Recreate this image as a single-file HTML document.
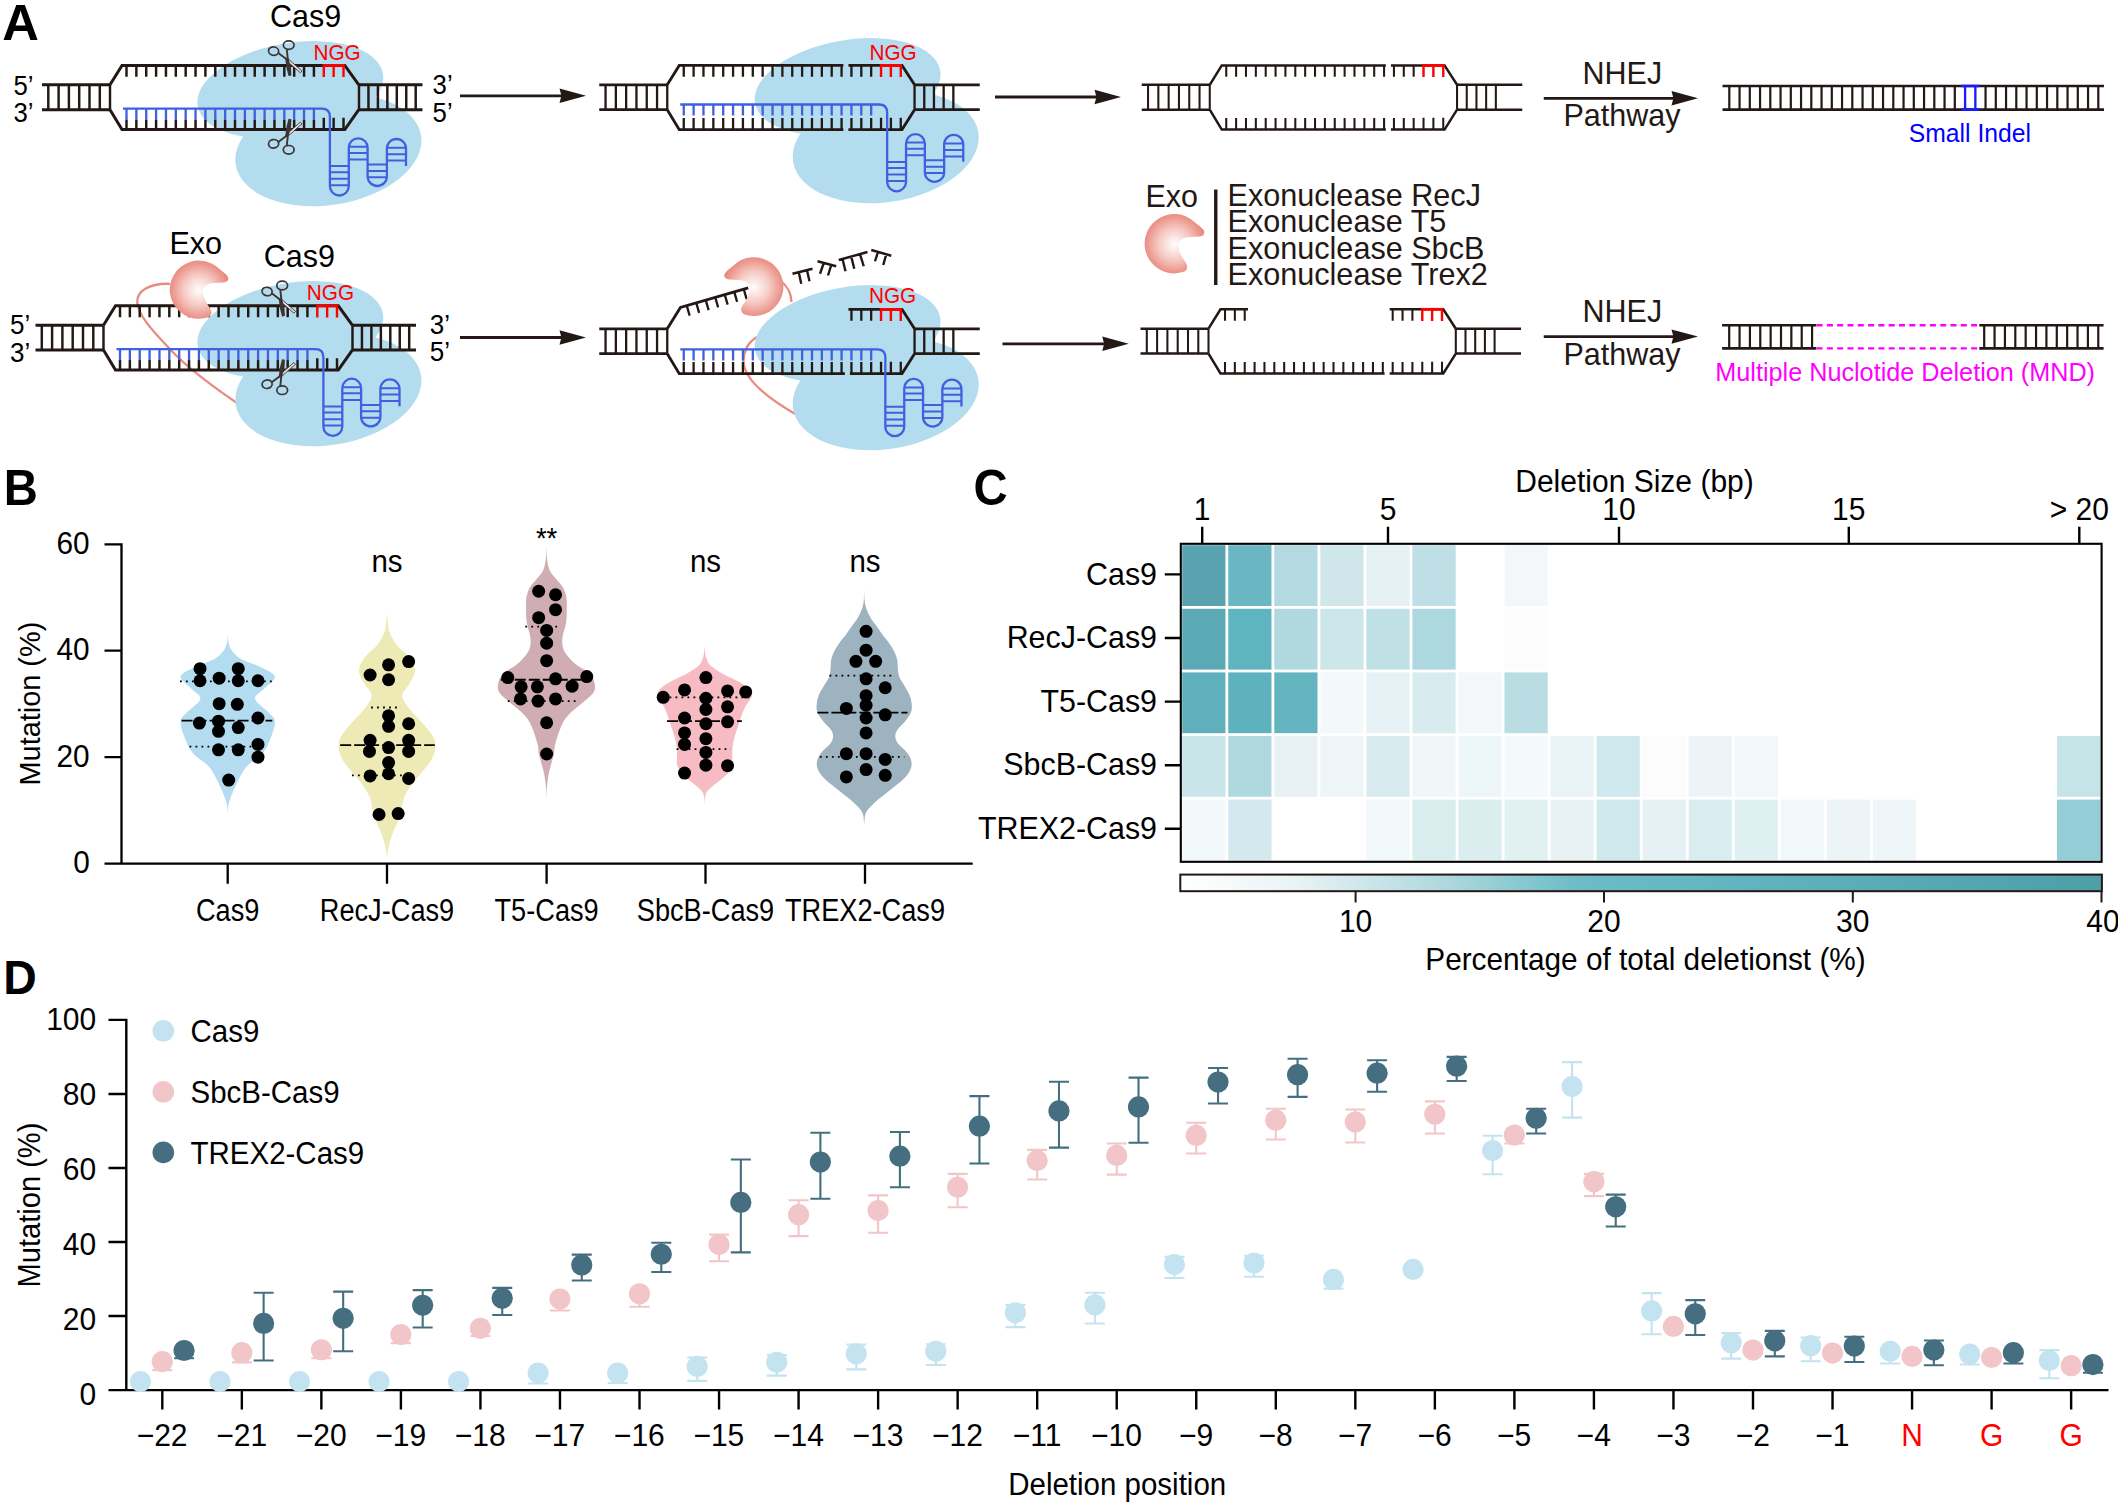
<!DOCTYPE html>
<html><head><meta charset="utf-8"><title>Figure</title>
<style>
html,body{margin:0;padding:0;background:#fff;}
body{width:2118px;height:1507px;overflow:hidden;}
svg{display:block;font-family:"Liberation Sans",sans-serif;}
</style></head><body>
<svg width="2118" height="1507" viewBox="0 0 2118 1507">
<rect width="2118" height="1507" fill="#fff"/>
<g id="panelA">
<defs><radialGradient id="gexo" gradientUnits="userSpaceOnUse" cx="0" cy="0.5" r="31"><stop offset="0" stop-color="#ffffff"/><stop offset="0.12" stop-color="#fdf1ef"/><stop offset="0.5" stop-color="#f6cbc5"/><stop offset="0.85" stop-color="#ec9b91"/><stop offset="1" stop-color="#e98a7f"/></radialGradient></defs>
<text transform="translate(2.2 39.7) scale(1.025 1)" font-size="49.52" fill="#000" text-anchor="start" font-weight="bold" >A</text>
<g fill="#b3dcee" transform="translate(0 0)"><ellipse cx="290.3" cy="89.8" rx="94" ry="46.6" transform="rotate(-10 290.3 89.8)"/><ellipse cx="328.4" cy="150" rx="93.8" ry="55" transform="rotate(-9 328.4 150)"/></g><g transform="translate(0 0)" fill="none" stroke="#231815" stroke-width="3" stroke-linejoin="miter"><path d="M42 84.8H110 M42 109.7H110"/><path d="M48.3 84.8V109.7M58.6 84.8V109.7M68.9 84.8V109.7M79.2 84.8V109.7M89.5 84.8V109.7M99.8 84.8V109.7M110 84.8V109.7" stroke="#231815" stroke-width="2.46" fill="none"/><path d="M358.8 84.8H422.5 M358.8 109.7H422.5"/><path d="M359 84.8V109.7M368.45 84.8V109.7M377.9 84.8V109.7M387.35 84.8V109.7M396.8 84.8V109.7M406.25 84.8V109.7M415.7 84.8V109.7" stroke="#231815" stroke-width="2.46" fill="none"/><path d="M110 84.8L122 65.4H344.8L358.8 84.8"/><path d="M126.5 65.4V76.8M136.36 65.4V76.8M146.23 65.4V76.8M156.09 65.4V76.8M165.96 65.4V76.8M175.82 65.4V76.8M185.68 65.4V76.8M195.55 65.4V76.8M205.41 65.4V76.8M215.28 65.4V76.8M225.14 65.4V76.8M235 65.4V76.8M244.87 65.4V76.8M254.73 65.4V76.8M264.6 65.4V76.8M274.46 65.4V76.8M284.32 65.4V76.8M294.19 65.4V76.8M304.05 65.4V76.8M313.92 65.4V76.8" stroke="#231815" stroke-width="2.46" fill="none"/><path d="M322.58 65.4H344.71" stroke="#ff0000" stroke-width="2.8"/><path d="M323.78 65.4V77M333.64 65.4V77M343.51 65.4V77" stroke="#ff0000" stroke-width="2.4" fill="none"/><path d="M110 109.7L122 129.6H344.8L358.8 109.7"/><path d="M126.5 129.6V119.6M136.36 129.6V119.6M146.23 129.6V119.6M156.09 129.6V119.6M165.96 129.6V119.6M175.82 129.6V119.6M185.68 129.6V119.6M195.55 129.6V119.6M205.41 129.6V119.6M215.28 129.6V119.6M225.14 129.6V119.6M235 129.6V119.6M244.87 129.6V119.6M254.73 129.6V119.6M264.6 129.6V119.6M274.46 129.6V119.6M284.32 129.6V119.6M294.19 129.6V119.6M304.05 129.6V119.6M313.92 129.6V119.6" stroke="#231815" stroke-width="2.46" fill="none"/><path d="M323.78 129.6V117.8M333.64 129.6V117.8M343.51 129.6V117.8" stroke="#231815" stroke-width="2.46" fill="none"/></g><g transform="translate(0 0)" fill="none" stroke="#4060e0" stroke-width="2.3"><path d="M123 108.7H321.8Q329.9 108.7 329.9 117V186.05A9.45 9.45 0 0 0 348.8 186.05V147.7A9.4 9.4 0 0 1 367.6 147.7V176.35A9.65 9.65 0 0 0 386.9 176.35V148.55A9.55 9.55 0 0 1 406 148.55V165.9"/><path d="M329.9 166.1H348.8M329.9 172.2H348.8M329.9 178.8H348.8M329.9 185.2H348.8M348.8 146.8H367.6M348.8 152.9H367.6M348.8 159.5H367.6M367.6 164.5H386.9M367.6 170.9H386.9M367.6 177.3H386.9M386.9 147.8H406M386.9 154.2H406M386.9 160.6H406" stroke-width="2"/><path d="M126.5 108.7V119.8M136.36 108.7V119.8M146.23 108.7V119.8M156.09 108.7V119.8M165.96 108.7V119.8M175.82 108.7V119.8M185.68 108.7V119.8M195.55 108.7V119.8M205.41 108.7V119.8M215.28 108.7V119.8M225.14 108.7V119.8M235 108.7V119.8M244.87 108.7V119.8M254.73 108.7V119.8M264.6 108.7V119.8M274.46 108.7V119.8M284.32 108.7V119.8M294.19 108.7V119.8M304.05 108.7V119.8M313.92 108.7V119.8" stroke="#4060e0" stroke-width="2.3" fill="none"/></g><g transform="translate(0 0)"><path d="M288.7 59.4L302 71L300.4 72.7L287.3 61.5Z" fill="#e8dede" stroke="#3b3431" stroke-width="0.9"/><path d="M285.1 57.8L288.5 58.2L291 68L291.4 75.6L288.5 76.1L286.6 68.5Z" fill="#3b3431"/><g fill="none" stroke="#3b3431" stroke-width="1.7"><ellipse cx="273.6" cy="51.1" rx="5.1" ry="4.2" transform="rotate(12 273.6 51.1)"/><ellipse cx="288.7" cy="45.1" rx="5.4" ry="4.3"/><path d="M278.6 53.2L287.6 60M286.8 49.5L287.8 58.8" stroke-width="1.9"/></g></g><g transform="translate(0 0) translate(0 194.9) scale(1 -1)"><path d="M288.7 59.4L302 71L300.4 72.7L287.3 61.5Z" fill="#e8dede" stroke="#3b3431" stroke-width="0.9"/><path d="M285.1 57.8L288.5 58.2L291 68L291.4 75.6L288.5 76.1L286.6 68.5Z" fill="#3b3431"/><g fill="none" stroke="#3b3431" stroke-width="1.7"><ellipse cx="273.6" cy="51.1" rx="5.1" ry="4.2" transform="rotate(12 273.6 51.1)"/><ellipse cx="288.7" cy="45.1" rx="5.4" ry="4.3"/><path d="M278.6 53.2L287.6 60M286.8 49.5L287.8 58.8" stroke-width="1.9"/></g></g>
<text transform="translate(270 26.5) scale(0.955 1)" font-size="31.95" fill="#000" text-anchor="start" font-weight="normal" >Cas9</text>
<text transform="translate(313.5 60) scale(0.955 1)" font-size="21.73" fill="#ff0000" text-anchor="start" font-weight="normal" >NGG</text>
<text transform="translate(13.5 94.5) scale(0.955 1)" font-size="26.94" fill="#000" text-anchor="start" font-weight="normal" >5’</text>
<text transform="translate(13.5 122.2) scale(0.955 1)" font-size="26.94" fill="#000" text-anchor="start" font-weight="normal" >3’</text>
<text transform="translate(432.6 94.3) scale(0.955 1)" font-size="26.94" fill="#000" text-anchor="start" font-weight="normal" >3’</text>
<text transform="translate(432.6 121.8) scale(0.955 1)" font-size="26.94" fill="#000" text-anchor="start" font-weight="normal" >5’</text>
<line x1="460" y1="95.8" x2="566" y2="95.8" stroke="#231815" stroke-width="2.8" /><path d="M586 95.8L559.5 88.6L561.4 95.8L559.5 103Z" fill="#231815"/>
<g fill="#b3dcee" transform="translate(557.3 -3)"><ellipse cx="290.3" cy="89.8" rx="94" ry="46.6" transform="rotate(-10 290.3 89.8)"/><ellipse cx="328.4" cy="150" rx="93.8" ry="55" transform="rotate(-9 328.4 150)"/></g><g transform="translate(557.25 0)" fill="none" stroke="#231815" stroke-width="2.8" stroke-linejoin="miter"><path d="M42 84.8H110 M42 109.7H110"/><path d="M48.3 84.8V109.7M58.6 84.8V109.7M68.9 84.8V109.7M79.2 84.8V109.7M89.5 84.8V109.7M99.8 84.8V109.7M110 84.8V109.7" stroke="#231815" stroke-width="2.3" fill="none"/><path d="M357.3 84.8H422.5 M357.3 109.7H422.5"/><path d="M357.3 84.8V109.7M367 84.8V109.7M376.7 84.8V109.7M386.4 84.8V109.7M396.1 84.8V109.7" stroke="#231815" stroke-width="2.3" fill="none"/><path d="M110 84.8L122 65.4H286.12 M291.19 65.4H344.8L357.3 84.8"/><path d="M126.5 65.4V76.8M136.36 65.4V76.8M146.23 65.4V76.8M156.09 65.4V76.8M165.96 65.4V76.8M175.82 65.4V76.8M185.68 65.4V76.8M195.55 65.4V76.8M205.41 65.4V76.8M215.28 65.4V76.8M225.14 65.4V76.8M235 65.4V76.8M244.87 65.4V76.8M254.73 65.4V76.8M264.6 65.4V76.8M274.46 65.4V76.8M284.32 65.4V76.8M294.19 65.4V76.8M304.05 65.4V76.8M313.92 65.4V76.8" stroke="#231815" stroke-width="2.3" fill="none"/><path d="M322.58 65.4H344.71" stroke="#ff0000" stroke-width="2.8"/><path d="M323.78 65.4V77M333.64 65.4V77M343.51 65.4V77" stroke="#ff0000" stroke-width="2.4" fill="none"/><path d="M110 109.7L122 129.6H286.12 M291.19 129.6H344.8L357.3 109.7"/><path d="M126.5 129.6V118M136.36 129.6V118M146.23 129.6V118M156.09 129.6V118M165.96 129.6V118M175.82 129.6V118M185.68 129.6V118M195.55 129.6V118M205.41 129.6V118M215.28 129.6V118M225.14 129.6V118M235 129.6V118M244.87 129.6V118M254.73 129.6V118M264.6 129.6V118M274.46 129.6V118M284.32 129.6V118M294.19 129.6V118M304.05 129.6V118M313.92 129.6V118" stroke="#231815" stroke-width="2.3" fill="none"/><path d="M323.78 129.6V117.8M333.64 129.6V117.8M343.51 129.6V117.8" stroke="#231815" stroke-width="2.3" fill="none"/></g><g transform="translate(557.25 -4.2)" fill="none" stroke="#4060e0" stroke-width="2.3"><path d="M123 108.7H321.8Q329.9 108.7 329.9 117V186.05A9.45 9.45 0 0 0 348.8 186.05V147.7A9.4 9.4 0 0 1 367.6 147.7V176.35A9.65 9.65 0 0 0 386.9 176.35V148.55A9.55 9.55 0 0 1 406 148.55V165.9"/><path d="M329.9 166.1H348.8M329.9 172.2H348.8M329.9 178.8H348.8M329.9 185.2H348.8M348.8 146.8H367.6M348.8 152.9H367.6M348.8 159.5H367.6M367.6 164.5H386.9M367.6 170.9H386.9M367.6 177.3H386.9M386.9 147.8H406M386.9 154.2H406M386.9 160.6H406" stroke-width="2"/><path d="M126.5 108.7V119.8M136.36 108.7V119.8M146.23 108.7V119.8M156.09 108.7V119.8M165.96 108.7V119.8M175.82 108.7V119.8M185.68 108.7V119.8M195.55 108.7V119.8M205.41 108.7V119.8M215.28 108.7V119.8M225.14 108.7V119.8M235 108.7V119.8M244.87 108.7V119.8M254.73 108.7V119.8M264.6 108.7V119.8M274.46 108.7V119.8M284.32 108.7V119.8M294.19 108.7V119.8M304.05 108.7V119.8M313.92 108.7V119.8" stroke="#4060e0" stroke-width="2.3" fill="none"/></g>
<text transform="translate(869.5 59.6) scale(0.955 1)" font-size="21.73" fill="#ff0000" text-anchor="start" font-weight="normal" >NGG</text>
<line x1="995" y1="97" x2="1101" y2="97" stroke="#231815" stroke-width="2.8" /><path d="M1121 97L1094.5 89.8L1096.4 97L1094.5 104.2Z" fill="#231815"/>
<g transform="translate(1099.75 0)" fill="none" stroke="#231815" stroke-width="2.5" stroke-linejoin="miter"><path d="M42 84.8H110 M42 109.7H110"/><path d="M48.3 84.8V109.7M58.6 84.8V109.7M68.9 84.8V109.7M79.2 84.8V109.7M89.5 84.8V109.7M99.8 84.8V109.7M110 84.8V109.7" stroke="#231815" stroke-width="2.05" fill="none"/><path d="M357.3 84.8H422.5 M357.3 109.7H422.5"/><path d="M357.3 84.8V109.7M367 84.8V109.7M376.7 84.8V109.7M386.4 84.8V109.7M396.1 84.8V109.7" stroke="#231815" stroke-width="2.05" fill="none"/><path d="M110 84.8L122 65.4H286.12 M291.19 65.4H344.8L357.3 84.8"/><path d="M126.5 65.4V76.8M136.36 65.4V76.8M146.23 65.4V76.8M156.09 65.4V76.8M165.96 65.4V76.8M175.82 65.4V76.8M185.68 65.4V76.8M195.55 65.4V76.8M205.41 65.4V76.8M215.28 65.4V76.8M225.14 65.4V76.8M235 65.4V76.8M244.87 65.4V76.8M254.73 65.4V76.8M264.6 65.4V76.8M274.46 65.4V76.8M284.32 65.4V76.8M294.19 65.4V76.8M304.05 65.4V76.8M313.92 65.4V76.8" stroke="#231815" stroke-width="2.05" fill="none"/><path d="M322.58 65.4H344.71" stroke="#ff0000" stroke-width="2.8"/><path d="M323.78 65.4V77M333.64 65.4V77M343.51 65.4V77" stroke="#ff0000" stroke-width="2.4" fill="none"/><path d="M110 109.7L122 129.6H286.12 M291.19 129.6H344.8L357.3 109.7"/><path d="M126.5 129.6V118M136.36 129.6V118M146.23 129.6V118M156.09 129.6V118M165.96 129.6V118M175.82 129.6V118M185.68 129.6V118M195.55 129.6V118M205.41 129.6V118M215.28 129.6V118M225.14 129.6V118M235 129.6V118M244.87 129.6V118M254.73 129.6V118M264.6 129.6V118M274.46 129.6V118M284.32 129.6V118M294.19 129.6V118M304.05 129.6V118M313.92 129.6V118" stroke="#231815" stroke-width="2.05" fill="none"/><path d="M323.78 129.6V117.8M333.64 129.6V117.8M343.51 129.6V117.8" stroke="#231815" stroke-width="2.05" fill="none"/></g>
<line x1="1543.75" y1="98.3" x2="1678" y2="98.3" stroke="#231815" stroke-width="2.8" /><path d="M1698 98.3L1671.5 91.1L1673.4 98.3L1671.5 105.5Z" fill="#231815"/>
<text transform="translate(1582.5 83.8) scale(0.955 1)" font-size="31.95" fill="#231815" text-anchor="start" font-weight="normal" >NHEJ</text>
<text transform="translate(1563.5 126.4) scale(0.955 1)" font-size="31.95" fill="#231815" text-anchor="start" font-weight="normal" >Pathway</text>
<g stroke="#231815" fill="none"><path d="M1722.5 86H2104 M1722.5 109.6H2104" stroke-width="2.6"/><path d="M1729.3 86V109.6M1739.55 86V109.6M1749.8 86V109.6M1760.05 86V109.6M1770.3 86V109.6M1780.55 86V109.6M1790.8 86V109.6M1801.05 86V109.6M1811.3 86V109.6M1821.55 86V109.6M1831.8 86V109.6M1842.05 86V109.6M1852.3 86V109.6M1862.55 86V109.6M1872.8 86V109.6M1883.05 86V109.6M1893.3 86V109.6M1903.55 86V109.6M1913.8 86V109.6M1924.05 86V109.6M1934.3 86V109.6M1944.55 86V109.6M1954.8 86V109.6M1985.55 86V109.6M1995.8 86V109.6M2006.05 86V109.6M2016.3 86V109.6M2026.55 86V109.6M2036.8 86V109.6M2047.05 86V109.6M2057.3 86V109.6M2067.55 86V109.6M2077.8 86V109.6M2088.05 86V109.6M2098.3 86V109.6" stroke="#231815" stroke-width="2.2" fill="none"/></g>
<path d="M1961.1 86H1979.3M1961.1 109.6H1979.3" stroke="#1a1aff" stroke-width="2.6"/>
<path d="M1965.1 86V109.6M1975.35 86V109.6" stroke="#1a1aff" stroke-width="2.3" fill="none"/>
<text transform="translate(1908.8 142.3) scale(0.955 1)" font-size="25.88" fill="#0000ff" text-anchor="start" font-weight="normal" >Small Indel</text>
<text transform="translate(1145.5 207.3) scale(0.955 1)" font-size="31.95" fill="#231815" text-anchor="start" font-weight="normal" >Exo</text>
<line x1="1215.75" y1="189.5" x2="1215.75" y2="285" stroke="#231815" stroke-width="3.4" />
<text transform="translate(1227.5 206.3) scale(0.955 1)" font-size="32.06" fill="#231815" text-anchor="start" font-weight="normal" >Exonuclease RecJ</text>
<text transform="translate(1227.5 232.45) scale(0.955 1)" font-size="32.06" fill="#231815" text-anchor="start" font-weight="normal" >Exonuclease T5</text>
<text transform="translate(1227.5 258.6) scale(0.955 1)" font-size="32.06" fill="#231815" text-anchor="start" font-weight="normal" >Exonuclease SbcB</text>
<text transform="translate(1227.5 284.75) scale(0.955 1)" font-size="32.06" fill="#231815" text-anchor="start" font-weight="normal" >Exonuclease Trex2</text>
<path d="M10.2 27.9A29.7 29.7 0 1 1 21 -21C23.6 -18.8 27.5 -16.2 29.3 -13.6C30.6 -11.6 30.2 -8.8 27.3 -7.8C22 -6.3 13 -7.5 9.4 -5.5C6 -3.8 3.8 -1.5 4.1 1.7C4.4 5.5 5.5 9 7 11.8C8.5 14.8 10.5 17.5 11.8 19.6C13.5 22.5 13.5 25.5 10.2 27.9Z" transform="translate(1174.3 243.7)" fill="url(#gexo)"/>
<path d="M170 283.8C150 283 136 291 137.3 303C139 318 158 336 171.4 350.7C190 370 212 386 237 403" fill="none" stroke="#e98b7e" stroke-width="2.3"/>
<g fill="#b3dcee" transform="translate(0 240)"><ellipse cx="290.3" cy="89.8" rx="94" ry="46.6" transform="rotate(-10 290.3 89.8)"/><ellipse cx="328.4" cy="150" rx="93.8" ry="55" transform="rotate(-9 328.4 150)"/></g><g transform="translate(-6.5 240.4)" fill="none" stroke="#231815" stroke-width="3" stroke-linejoin="miter"><path d="M42 84.8H110 M42 109.7H110"/><path d="M48.3 84.8V109.7M58.6 84.8V109.7M68.9 84.8V109.7M79.2 84.8V109.7M89.5 84.8V109.7M99.8 84.8V109.7M110 84.8V109.7" stroke="#231815" stroke-width="2.46" fill="none"/><path d="M358.8 84.8H422.5 M358.8 109.7H422.5"/><path d="M359 84.8V109.7M368.45 84.8V109.7M377.9 84.8V109.7M387.35 84.8V109.7M396.8 84.8V109.7M406.25 84.8V109.7M415.7 84.8V109.7" stroke="#231815" stroke-width="2.46" fill="none"/><path d="M110 84.8L122 65.4H344.8L358.8 84.8"/><path d="M126.5 65.4V76.8M136.36 65.4V76.8M146.23 65.4V76.8M156.09 65.4V76.8M165.96 65.4V76.8M175.82 65.4V76.8M185.68 65.4V76.8M195.55 65.4V76.8M205.41 65.4V76.8M215.28 65.4V76.8M225.14 65.4V76.8M235 65.4V76.8M244.87 65.4V76.8M254.73 65.4V76.8M264.6 65.4V76.8M274.46 65.4V76.8M284.32 65.4V76.8M294.19 65.4V76.8M304.05 65.4V76.8M313.92 65.4V76.8" stroke="#231815" stroke-width="2.46" fill="none"/><path d="M322.58 65.4H344.71" stroke="#ff0000" stroke-width="2.8"/><path d="M323.78 65.4V77M333.64 65.4V77M343.51 65.4V77" stroke="#ff0000" stroke-width="2.4" fill="none"/><path d="M110 109.7L122 129.6H344.8L358.8 109.7"/><path d="M126.5 129.6V119.6M136.36 129.6V119.6M146.23 129.6V119.6M156.09 129.6V119.6M165.96 129.6V119.6M175.82 129.6V119.6M185.68 129.6V119.6M195.55 129.6V119.6M205.41 129.6V119.6M215.28 129.6V119.6M225.14 129.6V119.6M235 129.6V119.6M244.87 129.6V119.6M254.73 129.6V119.6M264.6 129.6V119.6M274.46 129.6V119.6M284.32 129.6V119.6M294.19 129.6V119.6M304.05 129.6V119.6M313.92 129.6V119.6" stroke="#231815" stroke-width="2.46" fill="none"/><path d="M323.78 129.6V117.8M333.64 129.6V117.8M343.51 129.6V117.8" stroke="#231815" stroke-width="2.46" fill="none"/></g><g transform="translate(-6.5 240.4)" fill="none" stroke="#4060e0" stroke-width="2.3"><path d="M123 108.7H321.8Q329.9 108.7 329.9 117V186.05A9.45 9.45 0 0 0 348.8 186.05V147.7A9.4 9.4 0 0 1 367.6 147.7V176.35A9.65 9.65 0 0 0 386.9 176.35V148.55A9.55 9.55 0 0 1 406 148.55V165.9"/><path d="M329.9 166.1H348.8M329.9 172.2H348.8M329.9 178.8H348.8M329.9 185.2H348.8M348.8 146.8H367.6M348.8 152.9H367.6M348.8 159.5H367.6M367.6 164.5H386.9M367.6 170.9H386.9M367.6 177.3H386.9M386.9 147.8H406M386.9 154.2H406M386.9 160.6H406" stroke-width="2"/><path d="M126.5 108.7V119.8M136.36 108.7V119.8M146.23 108.7V119.8M156.09 108.7V119.8M165.96 108.7V119.8M175.82 108.7V119.8M185.68 108.7V119.8M195.55 108.7V119.8M205.41 108.7V119.8M215.28 108.7V119.8M225.14 108.7V119.8M235 108.7V119.8M244.87 108.7V119.8M254.73 108.7V119.8M264.6 108.7V119.8M274.46 108.7V119.8M284.32 108.7V119.8M294.19 108.7V119.8M304.05 108.7V119.8M313.92 108.7V119.8" stroke="#4060e0" stroke-width="2.3" fill="none"/></g><g transform="translate(-6.5 240.4)"><path d="M288.7 59.4L302 71L300.4 72.7L287.3 61.5Z" fill="#e8dede" stroke="#3b3431" stroke-width="0.9"/><path d="M285.1 57.8L288.5 58.2L291 68L291.4 75.6L288.5 76.1L286.6 68.5Z" fill="#3b3431"/><g fill="none" stroke="#3b3431" stroke-width="1.7"><ellipse cx="273.6" cy="51.1" rx="5.1" ry="4.2" transform="rotate(12 273.6 51.1)"/><ellipse cx="288.7" cy="45.1" rx="5.4" ry="4.3"/><path d="M278.6 53.2L287.6 60M286.8 49.5L287.8 58.8" stroke-width="1.9"/></g></g><g transform="translate(-6.5 240.4) translate(0 194.9) scale(1 -1)"><path d="M288.7 59.4L302 71L300.4 72.7L287.3 61.5Z" fill="#e8dede" stroke="#3b3431" stroke-width="0.9"/><path d="M285.1 57.8L288.5 58.2L291 68L291.4 75.6L288.5 76.1L286.6 68.5Z" fill="#3b3431"/><g fill="none" stroke="#3b3431" stroke-width="1.7"><ellipse cx="273.6" cy="51.1" rx="5.1" ry="4.2" transform="rotate(12 273.6 51.1)"/><ellipse cx="288.7" cy="45.1" rx="5.4" ry="4.3"/><path d="M278.6 53.2L287.6 60M286.8 49.5L287.8 58.8" stroke-width="1.9"/></g></g>
<path d="M10.2 27.9A29.7 29.7 0 1 1 21 -21C23.6 -18.8 27.5 -16.2 29.3 -13.6C30.6 -11.6 30.2 -8.8 27.3 -7.8C22 -6.3 13 -7.5 9.4 -5.5C6 -3.8 3.8 -1.5 4.1 1.7C4.4 5.5 5.5 9 7 11.8C8.5 14.8 10.5 17.5 11.8 19.6C13.5 22.5 13.5 25.5 10.2 27.9Z" transform="translate(198.9 289.7) scale(0.98)" fill="url(#gexo)"/>
<text transform="translate(169.5 254.4) scale(0.955 1)" font-size="31.95" fill="#000" text-anchor="start" font-weight="normal" >Exo</text>
<text transform="translate(263.8 267) scale(0.955 1)" font-size="31.95" fill="#000" text-anchor="start" font-weight="normal" >Cas9</text>
<text transform="translate(306.8 300.3) scale(0.955 1)" font-size="21.73" fill="#ff0000" text-anchor="start" font-weight="normal" >NGG</text>
<text transform="translate(10 333.9) scale(0.955 1)" font-size="27.26" fill="#000" text-anchor="start" font-weight="normal" >5’</text>
<text transform="translate(10 362) scale(0.955 1)" font-size="27.26" fill="#000" text-anchor="start" font-weight="normal" >3’</text>
<text transform="translate(429.8 333.5) scale(0.955 1)" font-size="27.26" fill="#000" text-anchor="start" font-weight="normal" >3’</text>
<text transform="translate(429.8 360.8) scale(0.955 1)" font-size="27.26" fill="#000" text-anchor="start" font-weight="normal" >5’</text>
<line x1="460" y1="337.5" x2="566" y2="337.5" stroke="#231815" stroke-width="2.8" /><path d="M586 337.5L559.5 330.3L561.4 337.5L559.5 344.7Z" fill="#231815"/>
<path d="M781 281C789 288 791 294 791.5 302" fill="none" stroke="#e98b7e" stroke-width="2.3"/>
<path d="M757 337C748 342 743 352 743.5 362C744.5 378 762 395 796 414.5" fill="none" stroke="#e98b7e" stroke-width="2.3"/>
<g fill="#b3dcee" transform="translate(557.3 244)"><ellipse cx="290.3" cy="89.8" rx="94" ry="46.6" transform="rotate(-10 290.3 89.8)"/><ellipse cx="328.4" cy="150" rx="93.8" ry="55" transform="rotate(-9 328.4 150)"/></g><g transform="translate(557.25 244)" fill="none" stroke="#231815" stroke-width="2.8" stroke-linejoin="miter"><path d="M42 84.8H110 M42 109.7H110"/><path d="M48.3 84.8V109.7M58.6 84.8V109.7M68.9 84.8V109.7M79.2 84.8V109.7M89.5 84.8V109.7M99.8 84.8V109.7M110 84.8V109.7" stroke="#231815" stroke-width="2.3" fill="none"/><path d="M357.3 84.8H422.5 M357.3 109.7H422.5"/><path d="M357.3 84.8V109.7M367 84.8V109.7M376.7 84.8V109.7M386.4 84.8V109.7M396.1 84.8V109.7" stroke="#231815" stroke-width="2.3" fill="none"/><path d="M110 84.8L123.2 63.4L191 43.9"/><path d="M291.19 65.4H344.8L357.3 84.8"/><path d="M294.19 65.4V76.8M304.05 65.4V76.8M313.92 65.4V76.8" stroke="#231815" stroke-width="2.3" fill="none"/><path d="M129.5 61.59l2.9 10M139 58.85l2.9 10M148.5 56.12l2.9 10M158 53.38l2.9 10M167.5 50.65l2.9 10M177 47.92l2.9 10M186.5 45.18l2.9 10" stroke-width="2.3"/><path d="M322.58 65.4H344.71" stroke="#ff0000" stroke-width="2.8"/><path d="M323.78 65.4V77M333.64 65.4V77M343.51 65.4V77" stroke="#ff0000" stroke-width="2.4" fill="none"/><path d="M110 109.7L122 129.6H287.62 M292.69 129.6H344.8L357.3 109.7"/><path d="M126.5 129.6V118M136.36 129.6V118M146.23 129.6V118M156.09 129.6V118M165.96 129.6V118M175.82 129.6V118M185.68 129.6V118M195.55 129.6V118M205.41 129.6V118M215.28 129.6V118M225.14 129.6V118M235 129.6V118M244.87 129.6V118M254.73 129.6V118M264.6 129.6V118M274.46 129.6V118M284.32 129.6V118M294.19 129.6V118M304.05 129.6V118M313.92 129.6V118" stroke="#231815" stroke-width="2.3" fill="none"/><path d="M323.78 129.6V117.8M333.64 129.6V117.8M343.51 129.6V117.8" stroke="#231815" stroke-width="2.3" fill="none"/></g><g transform="translate(557.25 240.6)" fill="none" stroke="#4060e0" stroke-width="2.3"><path d="M123 108.7H320Q328.1 108.7 328.1 117V186.05A9.45 9.45 0 0 0 347 186.05V147.7A9.4 9.4 0 0 1 365.8 147.7V176.35A9.65 9.65 0 0 0 385.1 176.35V148.55A9.55 9.55 0 0 1 404.2 148.55V165.9"/><path d="M328.1 166.1H347M328.1 172.2H347M328.1 178.8H347M328.1 185.2H347M347 146.8H365.8M347 152.9H365.8M347 159.5H365.8M365.8 164.5H385.1M365.8 170.9H385.1M365.8 177.3H385.1M385.1 147.8H404.2M385.1 154.2H404.2M385.1 160.6H404.2" stroke-width="2"/><path d="M126.5 108.7V119.8M136.36 108.7V119.8M146.23 108.7V119.8M156.09 108.7V119.8M165.96 108.7V119.8M175.82 108.7V119.8M185.68 108.7V119.8M195.55 108.7V119.8M205.41 108.7V119.8M215.28 108.7V119.8M225.14 108.7V119.8M235 108.7V119.8M244.87 108.7V119.8M254.73 108.7V119.8M264.6 108.7V119.8M274.46 108.7V119.8M284.32 108.7V119.8M294.19 108.7V119.8M304.05 108.7V119.8M313.92 108.7V119.8" stroke="#4060e0" stroke-width="2.3" fill="none"/></g>
<path d="M10.2 27.9A29.7 29.7 0 1 1 21 -21C23.6 -18.8 27.5 -16.2 29.3 -13.6C30.6 -11.6 30.2 -8.8 27.3 -7.8C22 -6.3 13 -7.5 9.4 -5.5C6 -3.8 3.8 -1.5 4.1 1.7C4.4 5.5 5.5 9 7 11.8C8.5 14.8 10.5 17.5 11.8 19.6C13.5 22.5 13.5 25.5 10.2 27.9Z" transform="translate(754 286.6) scale(-1 1) scale(0.99)" fill="url(#gexo)"/>
<text transform="translate(869 302.8) scale(0.955 1)" font-size="21.73" fill="#ff0000" text-anchor="start" font-weight="normal" >NGG</text>
<path d="M792.5 273.75L812.5 268.75M798.75 272.3L801.25 283.75M807 270.3L809.5 281.25M817.5 261.25L836.25 266.25M823.75 263L820 273.75M831.25 265L828 275.5M838.75 260L867.5 252M842.5 259L845.5 271.25M851.25 256.6L854.25 268.75M860 254.2L863.75 266.25M871.25 250L891.25 255.75M878 252L875 261.25M886.25 254.4L883.25 265" fill="none" stroke="#231815" stroke-width="2.4"/>
<line x1="1002.5" y1="343.8" x2="1108.75" y2="343.8" stroke="#231815" stroke-width="2.8" /><path d="M1128.75 343.8L1102.25 336.6L1104.15 343.8L1102.25 351Z" fill="#231815"/>
<g transform="translate(1098.5 243.9)" fill="none" stroke="#231815" stroke-width="2.5" stroke-linejoin="miter"><path d="M42 84.8H110 M42 109.7H110"/><path d="M48.3 84.8V109.7M58.6 84.8V109.7M68.9 84.8V109.7M79.2 84.8V109.7M89.5 84.8V109.7M99.8 84.8V109.7M110 84.8V109.7" stroke="#231815" stroke-width="2.05" fill="none"/><path d="M357.3 84.8H422.5 M357.3 109.7H422.5"/><path d="M357.3 84.8V109.7M367 84.8V109.7M376.7 84.8V109.7M386.4 84.8V109.7M396.1 84.8V109.7" stroke="#231815" stroke-width="2.05" fill="none"/><path d="M110 84.8L122 65.4H149.5"/><path d="M126.5 65.4V76.8M136.36 65.4V76.8M146.23 65.4V76.8" stroke="#231815" stroke-width="2.05" fill="none"/><path d="M291.19 65.4H344.8L357.3 84.8"/><path d="M294.19 65.4V76.8M304.05 65.4V76.8M313.92 65.4V76.8" stroke="#231815" stroke-width="2.05" fill="none"/><path d="M322.58 65.4H344.71" stroke="#ff0000" stroke-width="2.8"/><path d="M323.78 65.4V77M333.64 65.4V77M343.51 65.4V77" stroke="#ff0000" stroke-width="2.4" fill="none"/><path d="M110 109.7L122 129.6H286.12 M291.19 129.6H344.8L357.3 109.7"/><path d="M126.5 129.6V118M136.36 129.6V118M146.23 129.6V118M156.09 129.6V118M165.96 129.6V118M175.82 129.6V118M185.68 129.6V118M195.55 129.6V118M205.41 129.6V118M215.28 129.6V118M225.14 129.6V118M235 129.6V118M244.87 129.6V118M254.73 129.6V118M264.6 129.6V118M274.46 129.6V118M284.32 129.6V118M294.19 129.6V118M304.05 129.6V118M313.92 129.6V118" stroke="#231815" stroke-width="2.05" fill="none"/><path d="M323.78 129.6V117.8M333.64 129.6V117.8M343.51 129.6V117.8" stroke="#231815" stroke-width="2.05" fill="none"/></g>
<line x1="1543.75" y1="336.6" x2="1678" y2="336.6" stroke="#231815" stroke-width="2.8" /><path d="M1698 336.6L1671.5 329.4L1673.4 336.6L1671.5 343.8Z" fill="#231815"/>
<text transform="translate(1582.5 321.6) scale(0.955 1)" font-size="31.95" fill="#231815" text-anchor="start" font-weight="normal" >NHEJ</text>
<text transform="translate(1563.5 364.6) scale(0.955 1)" font-size="31.95" fill="#231815" text-anchor="start" font-weight="normal" >Pathway</text>
<g stroke="#231815" fill="none"><path d="M1722.1 325.3H1816.4 M1722.1 348.4H1816.4" stroke-width="2.6"/><path d="M1729.2 325.3V348.4M1739.56 325.3V348.4M1749.92 325.3V348.4M1760.28 325.3V348.4M1770.64 325.3V348.4M1781 325.3V348.4M1791.36 325.3V348.4M1801.72 325.3V348.4M1812.08 325.3V348.4" stroke="#231815" stroke-width="2.2" fill="none"/></g>
<g stroke="#231815" fill="none"><path d="M1979.3 325.3H2103.6 M1979.3 348.4H2103.6" stroke-width="2.6"/><path d="M1984.2 325.3V348.4M1994.57 325.3V348.4M2004.94 325.3V348.4M2015.31 325.3V348.4M2025.68 325.3V348.4M2036.05 325.3V348.4M2046.42 325.3V348.4M2056.79 325.3V348.4M2067.16 325.3V348.4M2077.53 325.3V348.4M2087.9 325.3V348.4M2098.27 325.3V348.4" stroke="#231815" stroke-width="2.2" fill="none"/></g>
<path d="M1816.6 325.3H1979M1816.6 348.4H1979" stroke="#ff00ff" stroke-width="2.4" stroke-dasharray="6 4.3" fill="none"/>
<text transform="translate(1715.3 380.7) scale(0.955 1)" font-size="26.41" fill="#ff00ff" text-anchor="start" font-weight="normal" >Multiple Nuclotide Deletion (MND)</text>
</g>
<g id="panelB">
<text transform="translate(3.8 505.2) scale(0.955 1)" font-size="49.52" fill="#000" text-anchor="start" font-weight="bold" >B</text>
<path d="M227.74 634.54C227.9 635.98 227.95 640.38 228.69 643.14C229.43 645.9 230.12 648.45 232.2 651.11C234.27 653.76 236.44 656.42 241.11 659.07C245.79 661.72 254.6 664.11 260.22 667.03C265.85 669.95 274.34 672.87 274.88 676.59C275.41 680.3 266.7 685.61 263.41 689.33C260.12 693.04 254.44 695.17 255.13 698.88C255.82 702.6 264.26 707.91 267.55 711.62C270.84 715.34 274.29 716.93 274.88 721.18C275.46 725.43 273.07 731.8 271.05 737.11C269.04 742.41 266.7 748.25 262.77 753.03C258.84 757.81 251.41 761.52 247.48 765.77C243.56 770.02 241.8 773.73 239.2 778.51C236.6 783.29 233.63 790.19 231.88 794.44C230.12 798.68 229.38 800.81 228.69 803.99C228 807.18 227.9 811.96 227.74 813.55C227.58 811.96 227.47 807.18 226.78 803.99C226.09 800.81 225.35 798.68 223.6 794.44C221.84 790.19 218.87 783.29 216.27 778.51C213.67 773.73 211.92 770.02 207.99 765.77C204.06 761.52 196.63 757.81 192.7 753.03C188.77 748.25 186.44 742.41 184.42 737.11C182.4 731.8 180.01 725.43 180.6 721.18C181.18 716.93 184.63 715.34 187.92 711.62C191.21 707.91 199.65 702.6 200.34 698.88C201.03 695.17 195.35 693.04 192.06 689.33C188.77 685.61 180.07 680.3 180.6 676.59C181.13 672.87 189.62 669.95 195.25 667.03C200.87 664.11 209.69 661.72 214.36 659.07C219.03 656.42 221.21 653.76 223.28 651.11C225.35 648.45 226.04 645.9 226.78 643.14C227.52 640.38 227.58 635.98 227.74 634.54Z" fill="#b4dcf0"/>
<line x1="181.55" y1="720.54" x2="272.33" y2="720.54" stroke="#000" stroke-width="1.8" stroke-dasharray="11 3"/>
<line x1="179.96" y1="681.37" x2="273.92" y2="681.37" stroke="#000" stroke-width="1.8" stroke-dasharray="1.8 4.2"/>
<line x1="189.51" y1="746.66" x2="264.36" y2="746.66" stroke="#000" stroke-width="1.8" stroke-dasharray="1.8 4.2"/>
<g fill="#000"><circle cx="200.03" cy="668.63" r="6.5"/><circle cx="238.25" cy="668.63" r="6.5"/><circle cx="200.03" cy="680.73" r="6.5"/><circle cx="219.14" cy="678.18" r="6.5"/><circle cx="238.25" cy="680.73" r="6.5"/><circle cx="257.99" cy="680.73" r="6.5"/><circle cx="219.14" cy="703.66" r="6.5"/><circle cx="237.29" cy="704.3" r="6.5"/><circle cx="199.39" cy="723.09" r="6.5"/><circle cx="218.5" cy="721.18" r="6.5"/><circle cx="257.99" cy="717.99" r="6.5"/><circle cx="218.5" cy="731.37" r="6.5"/><circle cx="238.25" cy="727.55" r="6.5"/><circle cx="257.99" cy="744.43" r="6.5"/><circle cx="218.5" cy="749.85" r="6.5"/><circle cx="238.25" cy="749.85" r="6.5"/><circle cx="257.99" cy="757.17" r="6.5"/><circle cx="228.69" cy="780.1" r="6.5"/></g>
<path d="M386.99 612.25C387.15 613.95 387.52 619.15 387.95 622.44C388.37 625.73 388.11 628.28 389.54 632C390.97 635.71 393.26 640.49 396.55 644.74C399.84 648.98 406.21 653.23 409.29 657.48C412.37 661.72 414.91 665.97 415.02 670.22C415.13 674.46 412.05 678.71 409.92 682.96C407.8 687.21 402.39 691.45 402.28 695.7C402.17 699.95 405.73 703.66 409.29 708.44C412.84 713.22 419.64 719.59 423.62 724.36C427.6 729.14 431.21 733.39 433.18 737.11C435.14 740.82 435.67 742.94 435.41 746.66C435.14 750.38 433.81 755.15 431.58 759.4C429.35 763.65 425.43 767.89 422.03 772.14C418.63 776.39 414.17 780.64 411.2 784.88C408.23 789.13 405.84 793.38 404.19 797.62C402.55 801.87 402.49 806.12 401.33 810.36C400.16 814.61 398.78 818.86 397.18 823.1C395.59 827.35 393.26 831.6 391.77 835.84C390.28 840.09 389.06 844.6 388.27 848.58C387.47 852.57 387.2 857.87 386.99 859.73C386.78 857.87 386.51 852.57 385.72 848.58C384.92 844.6 383.7 840.09 382.21 835.84C380.73 831.6 378.39 827.35 376.8 823.1C375.21 818.86 373.83 814.61 372.66 810.36C371.49 806.12 371.44 801.87 369.79 797.62C368.15 793.38 365.76 789.13 362.79 784.88C359.81 780.64 355.35 776.39 351.96 772.14C348.56 767.89 344.63 763.65 342.4 759.4C340.17 755.15 338.84 750.38 338.58 746.66C338.31 742.94 338.84 740.82 340.81 737.11C342.77 733.39 346.38 729.14 350.36 724.36C354.34 719.59 361.14 713.22 364.7 708.44C368.25 703.66 371.81 699.95 371.7 695.7C371.6 691.45 366.18 687.21 364.06 682.96C361.94 678.71 358.86 674.46 358.96 670.22C359.07 665.97 361.62 661.72 364.7 657.48C367.78 653.23 374.15 648.98 377.44 644.74C380.73 640.49 383.01 635.71 384.44 632C385.88 628.28 385.61 625.73 386.04 622.44C386.46 619.15 386.83 613.95 386.99 612.25Z" fill="#eeeab6"/>
<line x1="340.17" y1="745.07" x2="434.77" y2="745.07" stroke="#000" stroke-width="1.8" stroke-dasharray="11 3"/>
<line x1="371.07" y1="707.48" x2="399.73" y2="707.48" stroke="#000" stroke-width="1.8" stroke-dasharray="1.8 4.2"/>
<line x1="351.96" y1="775.33" x2="417.25" y2="775.33" stroke="#000" stroke-width="1.8" stroke-dasharray="1.8 4.2"/>
<g fill="#000"><circle cx="388.58" cy="664.8" r="6.5"/><circle cx="408.65" cy="661.62" r="6.5"/><circle cx="370.11" cy="675" r="6.5"/><circle cx="388.58" cy="679.77" r="6.5"/><circle cx="388.58" cy="715.77" r="6.5"/><circle cx="388.58" cy="726.28" r="6.5"/><circle cx="408.65" cy="723.73" r="6.5"/><circle cx="370.11" cy="740.29" r="6.5"/><circle cx="408.65" cy="740.29" r="6.5"/><circle cx="369.47" cy="751.44" r="6.5"/><circle cx="388.58" cy="747.62" r="6.5"/><circle cx="408.65" cy="751.44" r="6.5"/><circle cx="388.58" cy="762.59" r="6.5"/><circle cx="388.58" cy="773.73" r="6.5"/><circle cx="370.11" cy="775.96" r="6.5"/><circle cx="408.65" cy="778.51" r="6.5"/><circle cx="379.03" cy="814.5" r="6.5"/><circle cx="398.14" cy="813.55" r="6.5"/></g>
<path d="M546.41 546C546.52 548.12 546.52 554.7 547.05 558.74C547.58 562.77 548.11 566.86 549.6 570.21C551.08 573.55 553.74 575.94 555.97 578.8C558.2 581.67 561.28 584.49 562.97 587.4C564.67 590.32 565.52 593.4 566.16 596.32C566.8 599.24 566.8 600.62 566.8 604.92C566.8 609.22 566.9 616.55 566.16 622.12C565.42 627.7 562.66 633.54 562.34 638.37C562.02 643.2 562.13 646.86 564.25 651.11C566.37 655.35 570.88 660.13 575.08 663.85C579.27 667.56 586.17 670.22 589.41 673.4C592.65 676.59 593.82 679.77 594.51 682.96C595.2 686.14 595.41 689.33 593.55 692.51C591.69 695.7 587.5 698.35 583.36 702.07C579.22 705.79 572.37 710.83 568.71 714.81C565.05 718.79 563.64 721.02 561.38 725.96C559.13 730.89 556.39 739.81 555.17 744.43C553.95 749.05 554.67 750.59 554.06 753.67C553.45 756.75 552.41 759.51 551.51 762.9C550.61 766.3 549.41 770.02 548.64 774.05C547.87 778.09 547.26 782.76 546.89 787.11C546.52 791.46 546.49 797.99 546.41 800.17C546.33 797.99 546.31 791.46 545.93 787.11C545.56 782.76 544.95 778.09 544.18 774.05C543.41 770.02 542.22 766.3 541.32 762.9C540.41 759.51 539.38 756.75 538.77 753.67C538.16 750.59 538.87 749.05 537.65 744.43C536.43 739.81 533.7 730.89 531.44 725.96C529.19 721.02 527.78 718.79 524.12 714.81C520.45 710.83 513.61 705.79 509.46 702.07C505.32 698.35 501.13 695.7 499.27 692.51C497.41 689.33 497.63 686.14 498.32 682.96C499.01 679.77 500.17 676.59 503.41 673.4C506.65 670.22 513.55 667.56 517.75 663.85C521.94 660.13 526.45 655.35 528.58 651.11C530.7 646.86 530.81 643.2 530.49 638.37C530.17 633.54 527.41 627.7 526.66 622.12C525.92 616.55 526.03 609.22 526.03 604.92C526.03 600.62 526.03 599.24 526.66 596.32C527.3 593.4 528.15 590.32 529.85 587.4C531.55 584.49 534.63 581.67 536.86 578.8C539.09 575.94 541.74 573.55 543.23 570.21C544.71 566.86 545.24 562.77 545.78 558.74C546.31 554.7 546.31 548.12 546.41 546Z" fill="#cfadb2"/>
<line x1="500.77" y1="679.77" x2="590.59" y2="679.77" stroke="#000" stroke-width="1.8" stroke-dasharray="11 3"/>
<line x1="525.29" y1="626.58" x2="560.33" y2="626.58" stroke="#000" stroke-width="1.8" stroke-dasharray="1.8 4.2"/>
<line x1="507.78" y1="701.11" x2="579.44" y2="701.11" stroke="#000" stroke-width="1.8" stroke-dasharray="1.8 4.2"/>
<g fill="#000"><circle cx="538.67" cy="591.23" r="6.5"/><circle cx="555.55" cy="594.73" r="6.5"/><circle cx="555.55" cy="609.7" r="6.5"/><circle cx="538.67" cy="617.66" r="6.5"/><circle cx="546.64" cy="630.4" r="6.5"/><circle cx="546.64" cy="643.14" r="6.5"/><circle cx="546.64" cy="660.66" r="6.5"/><circle cx="507.78" cy="677.54" r="6.5"/><circle cx="555.55" cy="678.82" r="6.5"/><circle cx="586.77" cy="676.59" r="6.5"/><circle cx="521.15" cy="686.78" r="6.5"/><circle cx="537.4" cy="686.78" r="6.5"/><circle cx="572.12" cy="686.14" r="6.5"/><circle cx="520.52" cy="698.88" r="6.5"/><circle cx="538.04" cy="701.11" r="6.5"/><circle cx="555.55" cy="698.88" r="6.5"/><circle cx="546.64" cy="722.77" r="6.5"/><circle cx="546.64" cy="753.99" r="6.5"/></g>
<path d="M704.62 644.74C704.67 645.64 704.71 648.13 704.94 650.15C705.16 652.17 705.32 654.56 705.99 656.84C706.65 659.12 707.42 661.83 708.92 663.85C710.41 665.86 712.52 667.22 714.97 668.94C717.42 670.66 720.44 672.44 723.6 674.17C726.76 675.9 730.61 677.6 733.92 679.33C737.23 681.06 740.82 682.83 743.48 684.55C746.13 686.27 748.41 687.93 749.85 689.65C751.28 691.37 752.08 693.14 752.08 694.87C752.08 696.6 751 698.02 749.85 700.03C748.69 702.04 746.44 704.64 745.16 706.94C743.89 709.25 743.07 711.56 742.2 713.85C741.34 716.15 740.83 718.15 739.97 720.73C739.11 723.32 737.99 726.49 737.04 729.37C736.1 732.24 735.05 735.11 734.3 738C733.55 740.88 732.9 743.78 732.55 746.66C732.21 749.54 732.29 752.39 732.23 755.26C732.18 758.13 732.81 760.99 732.23 763.86C731.65 766.73 730.63 769.87 728.76 772.46C726.89 775.05 723.75 777.1 721.02 779.4C718.29 781.71 714.69 784.27 712.39 786.28C710.08 788.3 708.4 789.74 707.2 791.48C706 793.21 705.62 794.26 705.19 796.67C704.76 799.07 704.71 804.36 704.62 805.9C704.52 804.36 704.47 799.07 704.04 796.67C703.61 794.26 703.24 793.21 702.04 791.48C700.84 789.74 699.15 788.3 696.85 786.28C694.54 784.27 690.94 781.71 688.21 779.4C685.49 777.1 682.34 775.05 680.47 772.46C678.61 769.87 677.58 766.73 677 763.86C676.42 760.99 677.06 758.13 677 755.26C676.95 752.39 677.03 749.54 676.68 746.66C676.34 743.78 675.68 740.88 674.93 738C674.18 735.11 673.14 732.24 672.19 729.37C671.25 726.49 670.12 723.32 669.26 720.73C668.4 718.15 667.9 716.15 667.03 713.85C666.17 711.56 665.34 709.25 664.07 706.94C662.8 704.64 660.54 702.04 659.39 700.03C658.24 698.02 657.16 696.6 657.16 694.87C657.16 693.14 657.96 691.37 659.39 689.65C660.82 687.93 663.1 686.27 665.76 684.55C668.41 682.83 672 681.06 675.31 679.33C678.63 677.6 682.48 675.9 685.63 674.17C688.79 672.44 691.82 670.66 694.27 668.94C696.71 667.22 698.82 665.86 700.32 663.85C701.81 661.83 702.58 659.12 703.25 656.84C703.91 654.56 704.07 652.17 704.3 650.15C704.53 648.13 704.56 645.64 704.62 644.74Z" fill="#f6bbc3"/>
<line x1="667.03" y1="721.18" x2="741.88" y2="721.18" stroke="#000" stroke-width="1.8" stroke-dasharray="11 3"/>
<line x1="657.48" y1="697.29" x2="751.44" y2="697.29" stroke="#000" stroke-width="1.8" stroke-dasharray="1.8 4.2"/>
<line x1="676.59" y1="749.21" x2="730.74" y2="749.21" stroke="#000" stroke-width="1.8" stroke-dasharray="1.8 4.2"/>
<g fill="#000"><circle cx="705.89" cy="677.54" r="6.5"/><circle cx="684.55" cy="689.97" r="6.5"/><circle cx="727.55" cy="690.92" r="6.5"/><circle cx="745.71" cy="691.88" r="6.5"/><circle cx="663.21" cy="697.29" r="6.5"/><circle cx="705.89" cy="698.25" r="6.5"/><circle cx="727.55" cy="706.85" r="6.5"/><circle cx="705.89" cy="709.39" r="6.5"/><circle cx="684.55" cy="717.99" r="6.5"/><circle cx="727.55" cy="721.82" r="6.5"/><circle cx="705.89" cy="723.73" r="6.5"/><circle cx="684.55" cy="732.96" r="6.5"/><circle cx="705.89" cy="738.7" r="6.5"/><circle cx="684.55" cy="744.43" r="6.5"/><circle cx="705.89" cy="752.39" r="6.5"/><circle cx="705.89" cy="765.13" r="6.5"/><circle cx="727.55" cy="765.77" r="6.5"/><circle cx="684.55" cy="773.1" r="6.5"/></g>
<path d="M864.19 589C864.26 590.83 864.23 596.72 864.57 599.99C864.92 603.26 865.32 605.74 866.26 608.62C867.21 611.49 868.57 614.38 870.24 617.25C871.92 620.12 874.28 622.98 876.3 625.85C878.31 628.72 880.2 631.6 882.35 634.48C884.5 637.36 887.19 640.27 889.19 643.14C891.2 646.02 893.03 648.88 894.39 651.74C895.74 654.61 896.74 657.48 897.32 660.34C897.89 663.21 897.45 666.08 897.83 668.94C898.2 671.81 898.39 674.68 899.55 677.54C900.7 680.41 903.09 683.26 904.74 686.14C906.38 689.03 908.27 691.98 909.42 694.87C910.57 697.76 911.37 700.63 911.65 703.5C911.93 706.37 912.12 709.23 911.11 712.1C910.1 714.97 907.81 717.86 905.6 720.73C903.38 723.61 899.55 726.77 897.83 729.37C896.1 731.96 895.25 733.98 895.25 736.28C895.25 738.58 896.24 740.86 897.83 743.16C899.41 745.46 902.73 747.76 904.74 750.07C906.75 752.37 908.75 754.68 909.9 756.98C911.05 759.28 911.65 761.56 911.65 763.86C911.65 766.16 911.05 768.47 909.9 770.77C908.75 773.08 906.89 775.39 904.74 777.68C902.59 779.98 899.73 782.27 897 784.56C894.26 786.86 891.22 789.18 888.33 791.48C885.45 793.77 882.43 796.06 879.7 798.36C876.97 800.65 874.03 803.25 871.96 805.27C869.89 807.28 868.43 808.73 867.28 810.46C866.13 812.18 865.57 813.19 865.05 815.62C864.54 818.04 864.33 823.45 864.19 825.01C864.05 823.45 863.85 818.04 863.33 815.62C862.82 813.19 862.25 812.18 861.1 810.46C859.95 808.73 858.49 807.28 856.42 805.27C854.35 803.25 851.41 800.65 848.68 798.36C845.95 796.06 842.93 793.77 840.05 791.48C837.17 789.18 834.12 786.86 831.38 784.56C828.65 782.27 825.8 779.98 823.65 777.68C821.5 775.39 819.64 773.08 818.49 770.77C817.33 768.47 816.73 766.16 816.73 763.86C816.73 761.56 817.33 759.28 818.49 756.98C819.64 754.68 821.63 752.37 823.65 750.07C825.66 747.76 828.97 745.46 830.56 743.16C832.14 740.86 833.14 738.58 833.14 736.28C833.14 733.98 832.28 731.96 830.56 729.37C828.83 726.77 825 723.61 822.79 720.73C820.57 717.86 818.28 714.97 817.27 712.1C816.27 709.23 816.45 706.37 816.73 703.5C817.01 700.63 817.81 697.76 818.96 694.87C820.11 691.98 822 689.03 823.65 686.14C825.29 683.26 827.68 680.41 828.84 677.54C829.99 674.68 830.19 671.81 830.56 668.94C830.93 666.08 830.49 663.21 831.07 660.34C831.64 657.48 832.64 654.61 834 651.74C835.35 648.88 837.18 646.02 839.19 643.14C841.2 640.27 843.89 637.36 846.04 634.48C848.19 631.6 850.07 628.72 852.09 625.85C854.11 622.98 856.47 620.12 858.14 617.25C859.81 614.38 861.18 611.49 862.12 608.62C863.07 605.74 863.46 603.26 863.81 599.99C864.15 596.72 864.13 590.83 864.19 589Z" fill="#9db3bf"/>
<line x1="817.37" y1="712.58" x2="907.51" y2="712.58" stroke="#000" stroke-width="1.8" stroke-dasharray="11 3"/>
<line x1="829.47" y1="675.63" x2="894.77" y2="675.63" stroke="#000" stroke-width="1.8" stroke-dasharray="1.8 4.2"/>
<line x1="819.92" y1="756.85" x2="904.32" y2="756.85" stroke="#000" stroke-width="1.8" stroke-dasharray="1.8 4.2"/>
<g fill="#000"><circle cx="866.1" cy="631.36" r="6.5"/><circle cx="866.1" cy="650.15" r="6.5"/><circle cx="855.91" cy="661.3" r="6.5"/><circle cx="875.66" cy="661.3" r="6.5"/><circle cx="866.1" cy="678.82" r="6.5"/><circle cx="885.21" cy="687.74" r="6.5"/><circle cx="866.1" cy="695.7" r="6.5"/><circle cx="866.1" cy="705.25" r="6.5"/><circle cx="846.35" cy="708.44" r="6.5"/><circle cx="885.21" cy="714.81" r="6.5"/><circle cx="866.1" cy="717.99" r="6.5"/><circle cx="866.1" cy="732.96" r="6.5"/><circle cx="846.35" cy="753.67" r="6.5"/><circle cx="866.1" cy="753.67" r="6.5"/><circle cx="885.21" cy="759.4" r="6.5"/><circle cx="866.1" cy="769.59" r="6.5"/><circle cx="846.35" cy="776.92" r="6.5"/><circle cx="885.21" cy="775.33" r="6.5"/></g>
<path d="M104.5 544.3H121.5V863.6 M104.5 863.6H972.7M104.5 757.16H121.5M104.5 650.72H121.5M227.7 863.6V883.8M387 863.6V883.8M546.6 863.6V883.8M705.5 863.6V883.8M865 863.6V883.8" fill="none" stroke="#000" stroke-width="2.3"/>
<text transform="translate(89.7 873.2) scale(0.955 1)" font-size="31.2" fill="#000" text-anchor="end" font-weight="normal" >0</text>
<text transform="translate(89.7 766.76) scale(0.955 1)" font-size="31.2" fill="#000" text-anchor="end" font-weight="normal" >20</text>
<text transform="translate(89.7 660.32) scale(0.955 1)" font-size="31.2" fill="#000" text-anchor="end" font-weight="normal" >40</text>
<text transform="translate(89.7 553.88) scale(0.955 1)" font-size="31.2" fill="#000" text-anchor="end" font-weight="normal" >60</text>
<text transform="translate(39.6 703.6) rotate(-90) scale(0.955 1)" font-size="30.25" fill="#000" text-anchor="middle" font-weight="normal" >Mutation (%)</text>
<text transform="translate(227.7 921.3) scale(0.852 1)" font-size="31.9" fill="#000" text-anchor="middle" font-weight="normal" >Cas9</text>
<text transform="translate(387 921.3) scale(0.852 1)" font-size="31.9" fill="#000" text-anchor="middle" font-weight="normal" >RecJ-Cas9</text>
<text transform="translate(546.6 921.3) scale(0.852 1)" font-size="31.9" fill="#000" text-anchor="middle" font-weight="normal" >T5-Cas9</text>
<text transform="translate(705.5 921.3) scale(0.852 1)" font-size="31.9" fill="#000" text-anchor="middle" font-weight="normal" >SbcB-Cas9</text>
<text transform="translate(865 921.3) scale(0.852 1)" font-size="31.9" fill="#000" text-anchor="middle" font-weight="normal" >TREX2-Cas9</text>
<text transform="translate(387 572.3) scale(0.955 1)" font-size="30.88" fill="#000" text-anchor="middle" font-weight="normal" >ns</text>
<text transform="translate(705.5 572.3) scale(0.955 1)" font-size="30.88" fill="#000" text-anchor="middle" font-weight="normal" >ns</text>
<text transform="translate(865 572.3) scale(0.955 1)" font-size="30.88" fill="#000" text-anchor="middle" font-weight="normal" >ns</text>
<text transform="translate(546.6 548) scale(0.955 1)" font-size="28.75" fill="#000" text-anchor="middle" font-weight="normal" >**</text>
</g>
<g id="panelC">
<text transform="translate(973.5 505.3) scale(0.955 1)" font-size="49.52" fill="#000" text-anchor="start" font-weight="bold" >C</text>
<rect x="1182.2" y="545.2" width="43.24" height="60.8" fill="#58a3af"/>
<rect x="1228.24" y="545.2" width="43.24" height="60.8" fill="#6ab7c3"/>
<rect x="1274.28" y="545.2" width="43.24" height="60.8" fill="#b3dae0"/>
<rect x="1320.32" y="545.2" width="43.24" height="60.8" fill="#cfe7eb"/>
<rect x="1366.36" y="545.2" width="43.24" height="60.8" fill="#e5f1f5"/>
<rect x="1412.4" y="545.2" width="43.24" height="60.8" fill="#bddfe5"/>
<rect x="1504.48" y="545.2" width="43.24" height="60.8" fill="#f4f7fa"/>
<rect x="1182.2" y="608.8" width="43.24" height="60.8" fill="#5ba9b5"/>
<rect x="1228.24" y="608.8" width="43.24" height="60.8" fill="#5fb5bf"/>
<rect x="1274.28" y="608.8" width="43.24" height="60.8" fill="#b0d9df"/>
<rect x="1320.32" y="608.8" width="43.24" height="60.8" fill="#cde6ea"/>
<rect x="1366.36" y="608.8" width="43.24" height="60.8" fill="#bfe0e5"/>
<rect x="1412.4" y="608.8" width="43.24" height="60.8" fill="#aed8e0"/>
<rect x="1504.48" y="608.8" width="43.24" height="60.8" fill="#fcfcfd"/>
<rect x="1182.2" y="672.4" width="43.24" height="60.8" fill="#5fb0bc"/>
<rect x="1228.24" y="672.4" width="43.24" height="60.8" fill="#5db2bd"/>
<rect x="1274.28" y="672.4" width="43.24" height="60.8" fill="#65b5c1"/>
<rect x="1320.32" y="672.4" width="43.24" height="60.8" fill="#f3f9fa"/>
<rect x="1366.36" y="672.4" width="43.24" height="60.8" fill="#e6f2f5"/>
<rect x="1412.4" y="672.4" width="43.24" height="60.8" fill="#d8ecef"/>
<rect x="1458.44" y="672.4" width="43.24" height="60.8" fill="#f4f7fa"/>
<rect x="1504.48" y="672.4" width="43.24" height="60.8" fill="#b9dde2"/>
<rect x="1182.2" y="736" width="43.24" height="60.8" fill="#c9e5ea"/>
<rect x="1228.24" y="736" width="43.24" height="60.8" fill="#b0d9df"/>
<rect x="1274.28" y="736" width="43.24" height="60.8" fill="#e8f2f5"/>
<rect x="1320.32" y="736" width="43.24" height="60.8" fill="#eef5f8"/>
<rect x="1366.36" y="736" width="43.24" height="60.8" fill="#d8ecef"/>
<rect x="1412.4" y="736" width="43.24" height="60.8" fill="#f0f7f9"/>
<rect x="1458.44" y="736" width="43.24" height="60.8" fill="#edf6f8"/>
<rect x="1504.48" y="736" width="43.24" height="60.8" fill="#f4f9fa"/>
<rect x="1550.52" y="736" width="43.24" height="60.8" fill="#e9f2f5"/>
<rect x="1596.56" y="736" width="43.24" height="60.8" fill="#cfe8ed"/>
<rect x="1642.6" y="736" width="43.24" height="60.8" fill="#fcfcfd"/>
<rect x="1688.64" y="736" width="43.24" height="60.8" fill="#ecf4f8"/>
<rect x="1734.68" y="736" width="43.24" height="60.8" fill="#f1f8f9"/>
<rect x="2056.96" y="736" width="43.24" height="60.8" fill="#c5e4e7"/>
<rect x="1182.2" y="799.6" width="43.24" height="60.8" fill="#f2f9fa"/>
<rect x="1228.24" y="799.6" width="43.24" height="60.8" fill="#d3e9ed"/>
<rect x="1366.36" y="799.6" width="43.24" height="60.8" fill="#f0f8f9"/>
<rect x="1412.4" y="799.6" width="43.24" height="60.8" fill="#d9edef"/>
<rect x="1458.44" y="799.6" width="43.24" height="60.8" fill="#dcedf0"/>
<rect x="1504.48" y="799.6" width="43.24" height="60.8" fill="#e1f1f2"/>
<rect x="1550.52" y="799.6" width="43.24" height="60.8" fill="#e8f2f5"/>
<rect x="1596.56" y="799.6" width="43.24" height="60.8" fill="#cfe8ec"/>
<rect x="1642.6" y="799.6" width="43.24" height="60.8" fill="#e6f1f5"/>
<rect x="1688.64" y="799.6" width="43.24" height="60.8" fill="#d9edf0"/>
<rect x="1734.68" y="799.6" width="43.24" height="60.8" fill="#dff0f2"/>
<rect x="1780.72" y="799.6" width="43.24" height="60.8" fill="#f0f8f9"/>
<rect x="1826.76" y="799.6" width="43.24" height="60.8" fill="#edf4f8"/>
<rect x="1872.8" y="799.6" width="43.24" height="60.8" fill="#eff6fa"/>
<rect x="2056.96" y="799.6" width="43.24" height="60.8" fill="#94cdd6"/>
<rect x="1180.8" y="543.8" width="920.8" height="318" fill="none" stroke="#000" stroke-width="2.1"/>
<text transform="translate(1202.2 520.3) scale(0.955 1)" font-size="31.42" fill="#000" text-anchor="middle" font-weight="normal" >1</text>
<text transform="translate(1388 520.3) scale(0.955 1)" font-size="31.42" fill="#000" text-anchor="middle" font-weight="normal" >5</text>
<text transform="translate(1619 520.3) scale(0.955 1)" font-size="31.42" fill="#000" text-anchor="middle" font-weight="normal" >10</text>
<text transform="translate(1848.8 520.3) scale(0.955 1)" font-size="31.42" fill="#000" text-anchor="middle" font-weight="normal" >15</text>
<text transform="translate(2079.3 520.3) scale(0.955 1)" font-size="31.42" fill="#000" text-anchor="middle" font-weight="normal" >&gt; 20</text>
<text transform="translate(1157 584.6) scale(0.955 1)" font-size="31.84" fill="#000" text-anchor="end" font-weight="normal" >Cas9</text>
<text transform="translate(1157 648.2) scale(0.955 1)" font-size="31.84" fill="#000" text-anchor="end" font-weight="normal" >RecJ-Cas9</text>
<text transform="translate(1157 711.8) scale(0.955 1)" font-size="31.84" fill="#000" text-anchor="end" font-weight="normal" >T5-Cas9</text>
<text transform="translate(1157 775.4) scale(0.955 1)" font-size="31.84" fill="#000" text-anchor="end" font-weight="normal" >SbcB-Cas9</text>
<text transform="translate(1157 839) scale(0.955 1)" font-size="31.84" fill="#000" text-anchor="end" font-weight="normal" >TREX2-Cas9</text>
<path d="M1202.2 543.8V526.8M1388 543.8V526.8M1619 543.8V526.8M1848.8 543.8V526.8M2079.3 543.8V526.8M1180.8 574.4H1164.8M1180.8 638H1164.8M1180.8 701.6H1164.8M1180.8 765.2H1164.8M1180.8 828.8H1164.8" fill="none" stroke="#000" stroke-width="2.4"/>
<text transform="translate(1634.5 491.5) scale(0.955 1)" font-size="31.42" fill="#000" text-anchor="middle" font-weight="normal" >Deletion Size (bp)</text>
<defs><linearGradient id="cbar" x1="0" x2="1" y1="0" y2="0"><stop offset="0" stop-color="#ffffff"/><stop offset="0.12" stop-color="#eaf4f6"/><stop offset="0.3" stop-color="#a9d6dc"/><stop offset="0.43" stop-color="#6dbcc7"/><stop offset="0.6" stop-color="#62b5c0"/><stop offset="0.8" stop-color="#58a9b4"/><stop offset="1" stop-color="#4e9ea8"/></linearGradient></defs>
<rect x="1180.3" y="874.6" width="921.6" height="16.6" fill="url(#cbar)" stroke="#231815" stroke-width="2"/>
<text transform="translate(1355.6 931.8) scale(0.955 1)" font-size="31.42" fill="#000" text-anchor="middle" font-weight="normal" >10</text>
<text transform="translate(1604 931.8) scale(0.955 1)" font-size="31.42" fill="#000" text-anchor="middle" font-weight="normal" >20</text>
<text transform="translate(1852.8 931.8) scale(0.955 1)" font-size="31.42" fill="#000" text-anchor="middle" font-weight="normal" >30</text>
<text transform="translate(2103 931.8) scale(0.955 1)" font-size="31.42" fill="#000" text-anchor="middle" font-weight="normal" >40</text>
<path d="M1355.6 891V902.5M1604 891V902.5M1852.8 891V902.5M2101.5 891V902.5" fill="none" stroke="#231815" stroke-width="2"/>
<text transform="translate(1645.5 969.8) scale(0.955 1)" font-size="31.2" fill="#000" text-anchor="middle" font-weight="normal" >Percentage of total deletionst (%)</text>
</g>
<g id="panelD">
<text transform="translate(3.3 993.8) scale(0.955 1)" font-size="48.56" fill="#000" text-anchor="start" font-weight="bold" >D</text>
<path d="M108.5 1019.9H126.3V1390.1 M108.5 1390.1H2108.5M108.5 1316.06H126.3M108.5 1242.02H126.3M108.5 1167.98H126.3M108.5 1093.94H126.3M162.3 1390.1V1409.6M241.84 1390.1V1409.6M321.37 1390.1V1409.6M400.9 1390.1V1409.6M480.44 1390.1V1409.6M559.97 1390.1V1409.6M639.51 1390.1V1409.6M719.05 1390.1V1409.6M798.58 1390.1V1409.6M878.12 1390.1V1409.6M957.65 1390.1V1409.6M1037.18 1390.1V1409.6M1116.72 1390.1V1409.6M1196.25 1390.1V1409.6M1275.79 1390.1V1409.6M1355.32 1390.1V1409.6M1434.86 1390.1V1409.6M1514.39 1390.1V1409.6M1593.93 1390.1V1409.6M1673.46 1390.1V1409.6M1753 1390.1V1409.6M1832.53 1390.1V1409.6M1912.07 1390.1V1409.6M1991.6 1390.1V1409.6M2071.14 1390.1V1409.6" fill="none" stroke="#000" stroke-width="2.4"/>
<path d="M538.17 1373.07V1383.44M528.17 1383.44H548.17M617.71 1373.07V1383.07M607.71 1383.07H627.71M697.25 1357.52V1380.84M687.25 1357.52H707.25M687.25 1380.84H707.25M776.78 1354.93V1375.66M766.78 1354.93H786.78M766.78 1375.66H786.78M856.32 1344.57V1369.37M846.32 1344.57H866.32M846.32 1369.37H866.32M935.85 1344.2V1364.93M925.85 1344.2H945.85M925.85 1364.93H945.85M1015.38 1304.95V1327.17M1005.38 1304.95H1025.38M1005.38 1327.17H1025.38M1094.92 1292.74V1323.46M1084.92 1292.74H1104.92M1084.92 1323.46H1104.92M1174.45 1256.83V1277.93M1164.45 1256.83H1184.45M1164.45 1277.93H1184.45M1253.99 1255.72V1276.82M1243.99 1255.72H1263.99M1243.99 1276.82H1263.99M1333.52 1279.41V1288.67M1323.52 1288.67H1343.52M1492.6 1135.77V1174.27M1482.6 1135.77H1502.6M1482.6 1174.27H1502.6M1572.13 1062.1V1117.63M1562.13 1062.1H1582.13M1562.13 1117.63H1582.13M1651.66 1293.11V1334.2M1641.66 1293.11H1661.66M1641.66 1334.2H1661.66M1731.2 1333.09V1358.63M1721.2 1333.09H1741.2M1721.2 1358.63H1741.2M1810.73 1337.53V1361.22M1800.73 1337.53H1820.73M1800.73 1361.22H1820.73M1890.27 1351.23V1363.45M1880.27 1363.45H1900.27M1969.8 1354.19V1364.56M1959.8 1364.56H1979.8M2049.34 1350.12V1378.25M2039.34 1350.12H2059.34M2039.34 1378.25H2059.34" fill="none" stroke="#c4e3f1" stroke-width="2.1"/><g fill="#c4e3f1"><circle cx="140.5" cy="1381.59" r="10.6"/><circle cx="220.03" cy="1381.59" r="10.6"/><circle cx="299.57" cy="1381.59" r="10.6"/><circle cx="379.1" cy="1381.59" r="10.6"/><circle cx="458.64" cy="1381.59" r="10.6"/><circle cx="538.17" cy="1373.07" r="10.6"/><circle cx="617.71" cy="1373.07" r="10.6"/><circle cx="697.25" cy="1366.41" r="10.6"/><circle cx="776.78" cy="1362.33" r="10.6"/><circle cx="856.32" cy="1353.82" r="10.6"/><circle cx="935.85" cy="1351.23" r="10.6"/><circle cx="1015.38" cy="1312.73" r="10.6"/><circle cx="1094.92" cy="1304.95" r="10.6"/><circle cx="1174.45" cy="1264.6" r="10.6"/><circle cx="1253.99" cy="1263.12" r="10.6"/><circle cx="1333.52" cy="1279.41" r="10.6"/><circle cx="1413.06" cy="1269.41" r="10.6"/><circle cx="1492.6" cy="1150.58" r="10.6"/><circle cx="1572.13" cy="1086.54" r="10.6"/><circle cx="1651.66" cy="1310.88" r="10.6"/><circle cx="1731.2" cy="1342.71" r="10.6"/><circle cx="1810.73" cy="1345.68" r="10.6"/><circle cx="1890.27" cy="1351.23" r="10.6"/><circle cx="1969.8" cy="1354.19" r="10.6"/><circle cx="2049.34" cy="1360.48" r="10.6"/></g>
<path d="M162.3 1361.59V1370.11M152.3 1370.11H172.3M241.84 1352.71V1362.33M231.84 1362.33H251.84M321.37 1349.75V1358.26M311.37 1358.26H331.37M400.9 1334.57V1343.08M390.9 1343.08H410.9M480.44 1328.28V1336.05M470.44 1336.05H490.44M559.97 1299.03V1310.51M549.97 1310.51H569.97M639.51 1293.85V1306.8M629.51 1306.8H649.51M719.05 1234.62V1261.27M709.05 1234.62H729.05M709.05 1261.27H729.05M798.58 1200.19V1236.1M788.58 1200.19H808.58M788.58 1236.1H808.58M878.12 1195.37V1232.76M868.12 1195.37H888.12M868.12 1232.76H888.12M957.65 1173.9V1207.22M947.65 1173.9H967.65M947.65 1207.22H967.65M1037.18 1149.84V1179.46M1027.18 1149.84H1047.18M1027.18 1179.46H1047.18M1116.72 1143.55V1174.64M1106.72 1143.55H1126.72M1106.72 1174.64H1126.72M1196.25 1122.82V1153.54M1186.25 1122.82H1206.25M1186.25 1153.54H1206.25M1275.79 1108.75V1139.47M1265.79 1108.75H1285.79M1265.79 1139.47H1285.79M1355.32 1109.49V1142.44M1345.32 1109.49H1365.32M1345.32 1142.44H1365.32M1434.86 1101.34V1133.55M1424.86 1101.34H1444.86M1424.86 1133.55H1444.86M1514.39 1135.03V1143.55M1504.39 1143.55H1524.39M1593.93 1173.9V1196.12M1583.93 1173.9H1603.93M1583.93 1196.12H1603.93" fill="none" stroke="#f2c5c9" stroke-width="2.1"/><g fill="#f2c5c9"><circle cx="162.3" cy="1361.59" r="10.6"/><circle cx="241.84" cy="1352.71" r="10.6"/><circle cx="321.37" cy="1349.75" r="10.6"/><circle cx="400.9" cy="1334.57" r="10.6"/><circle cx="480.44" cy="1328.28" r="10.6"/><circle cx="559.97" cy="1299.03" r="10.6"/><circle cx="639.51" cy="1293.85" r="10.6"/><circle cx="719.05" cy="1244.61" r="10.6"/><circle cx="798.58" cy="1214.63" r="10.6"/><circle cx="878.12" cy="1210.55" r="10.6"/><circle cx="957.65" cy="1187.23" r="10.6"/><circle cx="1037.18" cy="1160.58" r="10.6"/><circle cx="1116.72" cy="1155.39" r="10.6"/><circle cx="1196.25" cy="1135.4" r="10.6"/><circle cx="1275.79" cy="1120.22" r="10.6"/><circle cx="1355.32" cy="1122.08" r="10.6"/><circle cx="1434.86" cy="1114.3" r="10.6"/><circle cx="1514.39" cy="1135.03" r="10.6"/><circle cx="1593.93" cy="1181.68" r="10.6"/><circle cx="1673.46" cy="1326.43" r="10.6"/><circle cx="1753" cy="1350.12" r="10.6"/><circle cx="1832.53" cy="1353.08" r="10.6"/><circle cx="1912.07" cy="1356.41" r="10.6"/><circle cx="1991.6" cy="1357.52" r="10.6"/><circle cx="2071.14" cy="1365.67" r="10.6"/></g>
<path d="M184.1 1350.49V1358.26M174.1 1358.26H194.1M263.63 1292.74V1360.48M253.63 1292.74H273.63M253.63 1360.48H273.63M343.17 1291.63V1351.23M333.17 1291.63H353.17M333.17 1351.23H353.17M422.7 1290.15V1327.54M412.7 1290.15H432.7M412.7 1327.54H432.7M502.24 1287.92V1314.95M492.24 1287.92H512.24M492.24 1314.95H512.24M581.77 1254.61V1280.52M571.77 1254.61H591.77M571.77 1280.52H591.77M661.31 1242.76V1272.01M651.31 1242.76H671.31M651.31 1272.01H671.31M740.85 1159.47V1252.39M730.85 1159.47H750.85M730.85 1252.39H750.85M820.38 1132.81V1198.71M810.38 1132.81H830.38M810.38 1198.71H830.38M899.91 1132.07V1187.23M889.91 1132.07H909.91M889.91 1187.23H909.91M979.45 1096.16V1163.54M969.45 1096.16H989.45M969.45 1163.54H989.45M1058.98 1081.72V1147.62M1048.98 1081.72H1068.98M1048.98 1147.62H1068.98M1138.52 1077.65V1142.81M1128.52 1077.65H1148.52M1128.52 1142.81H1148.52M1218.05 1068.03V1103.57M1208.05 1068.03H1228.05M1208.05 1103.57H1228.05M1297.59 1058.77V1096.9M1287.59 1058.77H1307.59M1287.59 1096.9H1307.59M1377.12 1060.25V1091.72M1367.12 1060.25H1387.12M1367.12 1091.72H1387.12M1456.66 1056.92V1080.98M1446.66 1056.92H1466.66M1446.66 1080.98H1466.66M1536.19 1108.75V1133.55M1526.19 1108.75H1546.19M1526.19 1133.55H1546.19M1615.73 1194.63V1226.47M1605.73 1194.63H1625.73M1605.73 1226.47H1625.73M1695.26 1300.14V1334.94M1685.26 1300.14H1705.26M1685.26 1334.94H1705.26M1774.8 1330.87V1356.41M1764.8 1330.87H1784.8M1764.8 1356.41H1784.8M1854.33 1336.79V1361.96M1844.33 1336.79H1864.33M1844.33 1361.96H1864.33M1933.87 1340.49V1365.3M1923.87 1340.49H1943.87M1923.87 1365.3H1943.87M2013.4 1352.71V1363.45M2003.4 1363.45H2023.4M2092.94 1364.56V1372.7M2082.94 1372.7H2102.94" fill="none" stroke="#456f80" stroke-width="2.1"/><g fill="#456f80"><circle cx="184.1" cy="1350.49" r="10.6"/><circle cx="263.63" cy="1323.46" r="10.6"/><circle cx="343.17" cy="1318.28" r="10.6"/><circle cx="422.7" cy="1305.32" r="10.6"/><circle cx="502.24" cy="1298.29" r="10.6"/><circle cx="581.77" cy="1264.97" r="10.6"/><circle cx="661.31" cy="1254.24" r="10.6"/><circle cx="740.85" cy="1202.41" r="10.6"/><circle cx="820.38" cy="1162.06" r="10.6"/><circle cx="899.91" cy="1156.13" r="10.6"/><circle cx="979.45" cy="1126.15" r="10.6"/><circle cx="1058.98" cy="1110.97" r="10.6"/><circle cx="1138.52" cy="1106.9" r="10.6"/><circle cx="1218.05" cy="1082.09" r="10.6"/><circle cx="1297.59" cy="1074.69" r="10.6"/><circle cx="1377.12" cy="1073.21" r="10.6"/><circle cx="1456.66" cy="1066.17" r="10.6"/><circle cx="1536.19" cy="1118.37" r="10.6"/><circle cx="1615.73" cy="1206.85" r="10.6"/><circle cx="1695.26" cy="1313.84" r="10.6"/><circle cx="1774.8" cy="1340.86" r="10.6"/><circle cx="1854.33" cy="1346.05" r="10.6"/><circle cx="1933.87" cy="1350.12" r="10.6"/><circle cx="2013.4" cy="1352.71" r="10.6"/><circle cx="2092.94" cy="1364.56" r="10.6"/></g>
<text transform="translate(96.2 1404.5) scale(0.955 1)" font-size="31.42" fill="#000" text-anchor="end" font-weight="normal" >0</text>
<text transform="translate(96.2 1329.56) scale(0.955 1)" font-size="31.42" fill="#000" text-anchor="end" font-weight="normal" >20</text>
<text transform="translate(96.2 1254.62) scale(0.955 1)" font-size="31.42" fill="#000" text-anchor="end" font-weight="normal" >40</text>
<text transform="translate(96.2 1179.68) scale(0.955 1)" font-size="31.42" fill="#000" text-anchor="end" font-weight="normal" >60</text>
<text transform="translate(96.2 1104.74) scale(0.955 1)" font-size="31.42" fill="#000" text-anchor="end" font-weight="normal" >80</text>
<text transform="translate(96.2 1029.8) scale(0.955 1)" font-size="31.42" fill="#000" text-anchor="end" font-weight="normal" >100</text>
<text transform="translate(162.1 1446.3) scale(0.955 1)" font-size="31.42" fill="#000" text-anchor="middle" font-weight="normal" >−22</text>
<text transform="translate(241.64 1446.3) scale(0.955 1)" font-size="31.42" fill="#000" text-anchor="middle" font-weight="normal" >−21</text>
<text transform="translate(321.17 1446.3) scale(0.955 1)" font-size="31.42" fill="#000" text-anchor="middle" font-weight="normal" >−20</text>
<text transform="translate(400.7 1446.3) scale(0.955 1)" font-size="31.42" fill="#000" text-anchor="middle" font-weight="normal" >−19</text>
<text transform="translate(480.24 1446.3) scale(0.955 1)" font-size="31.42" fill="#000" text-anchor="middle" font-weight="normal" >−18</text>
<text transform="translate(559.77 1446.3) scale(0.955 1)" font-size="31.42" fill="#000" text-anchor="middle" font-weight="normal" >−17</text>
<text transform="translate(639.31 1446.3) scale(0.955 1)" font-size="31.42" fill="#000" text-anchor="middle" font-weight="normal" >−16</text>
<text transform="translate(718.85 1446.3) scale(0.955 1)" font-size="31.42" fill="#000" text-anchor="middle" font-weight="normal" >−15</text>
<text transform="translate(798.38 1446.3) scale(0.955 1)" font-size="31.42" fill="#000" text-anchor="middle" font-weight="normal" >−14</text>
<text transform="translate(877.91 1446.3) scale(0.955 1)" font-size="31.42" fill="#000" text-anchor="middle" font-weight="normal" >−13</text>
<text transform="translate(957.45 1446.3) scale(0.955 1)" font-size="31.42" fill="#000" text-anchor="middle" font-weight="normal" >−12</text>
<text transform="translate(1036.98 1446.3) scale(0.955 1)" font-size="31.42" fill="#000" text-anchor="middle" font-weight="normal" >−11</text>
<text transform="translate(1116.52 1446.3) scale(0.955 1)" font-size="31.42" fill="#000" text-anchor="middle" font-weight="normal" >−10</text>
<text transform="translate(1196.05 1446.3) scale(0.955 1)" font-size="31.42" fill="#000" text-anchor="middle" font-weight="normal" >−9</text>
<text transform="translate(1275.59 1446.3) scale(0.955 1)" font-size="31.42" fill="#000" text-anchor="middle" font-weight="normal" >−8</text>
<text transform="translate(1355.12 1446.3) scale(0.955 1)" font-size="31.42" fill="#000" text-anchor="middle" font-weight="normal" >−7</text>
<text transform="translate(1434.66 1446.3) scale(0.955 1)" font-size="31.42" fill="#000" text-anchor="middle" font-weight="normal" >−6</text>
<text transform="translate(1514.19 1446.3) scale(0.955 1)" font-size="31.42" fill="#000" text-anchor="middle" font-weight="normal" >−5</text>
<text transform="translate(1593.73 1446.3) scale(0.955 1)" font-size="31.42" fill="#000" text-anchor="middle" font-weight="normal" >−4</text>
<text transform="translate(1673.26 1446.3) scale(0.955 1)" font-size="31.42" fill="#000" text-anchor="middle" font-weight="normal" >−3</text>
<text transform="translate(1752.8 1446.3) scale(0.955 1)" font-size="31.42" fill="#000" text-anchor="middle" font-weight="normal" >−2</text>
<text transform="translate(1832.33 1446.3) scale(0.955 1)" font-size="31.42" fill="#000" text-anchor="middle" font-weight="normal" >−1</text>
<text transform="translate(1912.07 1446.3) scale(0.955 1)" font-size="31.42" fill="#ff0000" text-anchor="middle" font-weight="normal" >N</text>
<text transform="translate(1991.6 1446.3) scale(0.955 1)" font-size="31.42" fill="#ff0000" text-anchor="middle" font-weight="normal" >G</text>
<text transform="translate(2071.14 1446.3) scale(0.955 1)" font-size="31.42" fill="#ff0000" text-anchor="middle" font-weight="normal" >G</text>
<text transform="translate(39.5 1205) rotate(-90) scale(0.955 1)" font-size="30.46" fill="#000" text-anchor="middle" font-weight="normal" >Mutation (%)</text>
<text transform="translate(1117.2 1494.8) scale(0.955 1)" font-size="30.88" fill="#000" text-anchor="middle" font-weight="normal" >Deletion position</text>
<circle cx="163.3" cy="1030.8" r="10.8" fill="#c4e3f1"/>
<text transform="translate(190.5 1042.4) scale(0.955 1)" font-size="30.88" fill="#000" text-anchor="start" font-weight="normal" >Cas9</text>
<circle cx="163.3" cy="1091.8" r="10.8" fill="#f2c5c9"/>
<text transform="translate(190.5 1103.4) scale(0.955 1)" font-size="30.88" fill="#000" text-anchor="start" font-weight="normal" >SbcB-Cas9</text>
<circle cx="163.3" cy="1152.4" r="10.8" fill="#456f80"/>
<text transform="translate(190.5 1164) scale(0.955 1)" font-size="30.88" fill="#000" text-anchor="start" font-weight="normal" >TREX2-Cas9</text>
</g>
</svg>
</body></html>
